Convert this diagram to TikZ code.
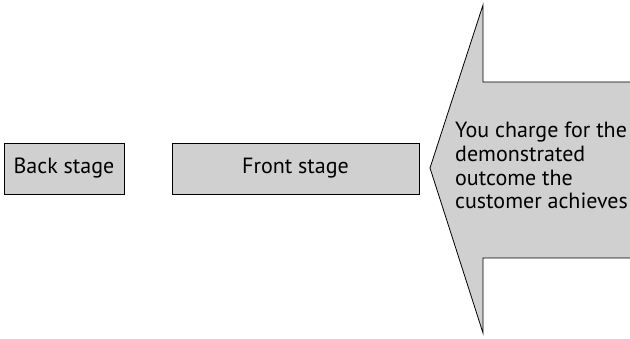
\documentclass[tikz,border=0pt]{standalone}
\usepackage{fontspec}
\setmainfont{PT Sans}
\begin{document}
\begin{tikzpicture}[x=1pt,y=-1pt,
  stagebox/.style={draw=black, line width=0.8pt, fill=boxgray, inner sep=0pt,
    font=\fontsize{22}{26}\selectfont},
  bigarrow/.style={draw=black, line width=0.8pt, fill=boxgray}]
  \definecolor{boxgray}{HTML}{D0D0D0}
  \useasboundingbox (0,0) rectangle (630,339);
  % stages
  \node[stagebox, minimum width=120pt, minimum height=51pt] (back) at (64,168.5) {Back stage};
  \node[stagebox, minimum width=247pt, minimum height=51pt] (front) at (295.5,168.5) {Front stage};
  % large arrow pointing left, its shaft running off the right edge
  \begin{scope}
    \clip (0,0) rectangle (630,339);
    \draw[bigarrow] (483,5) -- (483,82) -- (640,82) -- (640,258) -- (483,258)
      -- (483,333) -- (430,168) -- cycle;
  \end{scope}
  % label inside the arrow; the base anchor sits on the last line
  \node[anchor=base west, align=left, inner sep=0pt,
    font=\fontsize{22}{23.7}\selectfont] (charge) at (455,209)
    {You charge for the\\demonstrated\\outcome the\\customer achieves};
\end{tikzpicture}
\end{document}
